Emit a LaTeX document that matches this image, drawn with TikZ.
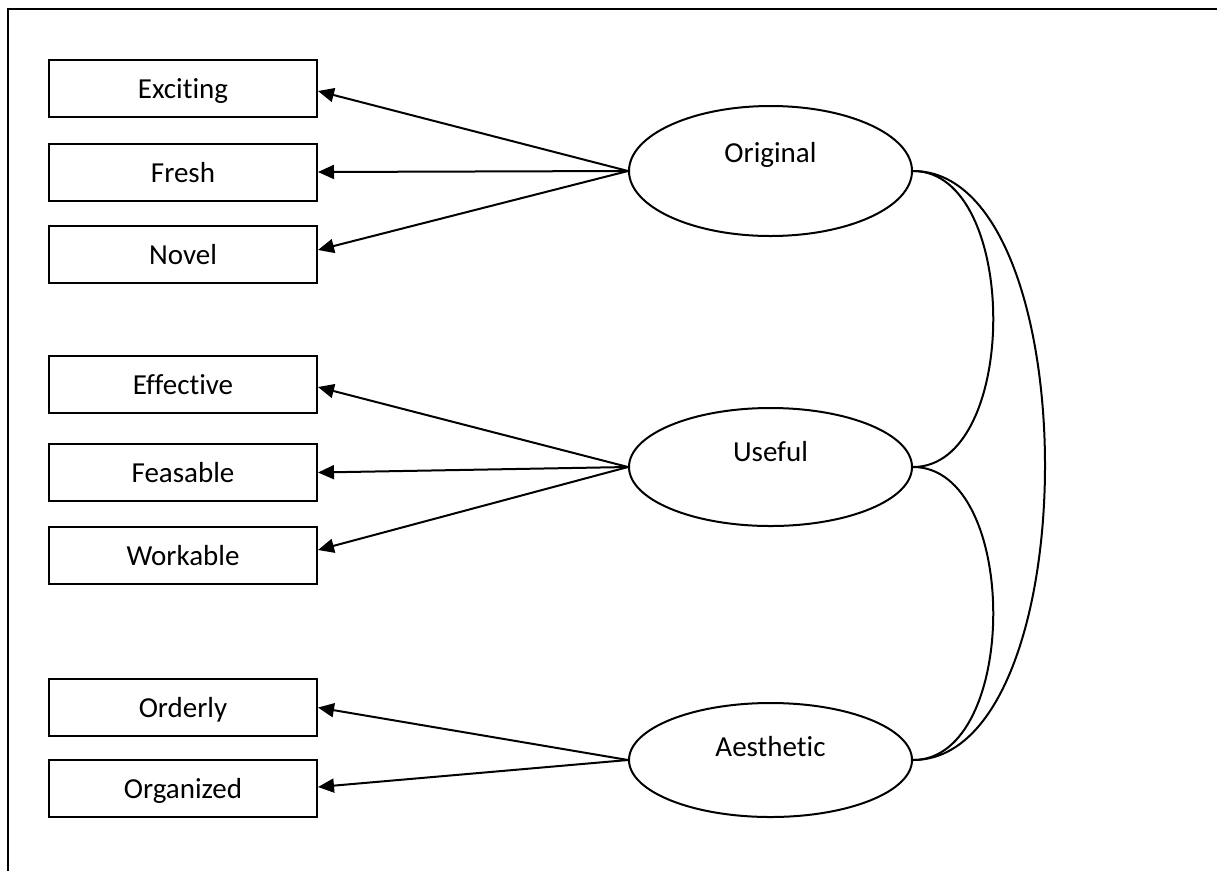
\documentclass[tikz,border=0pt]{standalone}
\usepackage{fontspec}
\setmainfont{Carlito}[Ligatures=NoCommon]
\usetikzlibrary{shapes.geometric,arrows.meta}
\tikzset{
  obs/.style={draw, line width=2pt, rectangle, minimum width=268pt, minimum height=57pt,
    inner sep=0pt, text height=20pt, text depth=0pt, font=\fontsize{29}{34}\selectfont},
  lat/.style={draw, line width=2pt, ellipse, minimum width=283pt, inner sep=0pt,
    text height=0pt, font=\fontsize{29}{34}\selectfont},
  load/.style={line width=2pt, -{Triangle[length=16pt,width=14pt]}},
  cov/.style={line width=2pt},
  frame/.style={line width=2.2pt}
}
\begin{document}
\begin{tikzpicture}[x=1pt,y=-1pt]
\useasboundingbox (0,0) rectangle (1217,871);
\coordinate (ftl) at (8,9);
\coordinate (ftr) at (1217,9);
\coordinate (fbl) at (8,871);
\draw[frame] (ftr) -- (ftl) -- (fbl);

\node[obs] (exc) at (183,88.5) {Exciting};
\node[obs] (fre) at (183,172) {Fresh};
\node[obs] (nov) at (183,254) {Novel};
\node[obs] (eff) at (183,384.5) {Effective};
\node[obs] (fea) at (183,472.5) {Feasable};
\node[obs] (wor) at (183,555) {Workable};
\node[obs] (ord) at (183,707.5) {Orderly};
\node[obs] (org) at (183,788.5) {Organized};

\node[lat, minimum height=130pt, text depth=18pt] (orig) at (770.5,171) {Original};
\node[lat, minimum height=118pt, text depth=12pt] (use) at (770.5,467) {Useful};
\node[lat, minimum height=114pt, text depth=8pt] (aes) at (770.5,760) {Aesthetic};

\draw[load] (orig.west) -- ([yshift=-2.5pt]exc.east);
\draw[load] (orig.west) -- (fre.east);
\draw[load] (orig.west) -- ([yshift=4pt]nov.east);
\draw[load] (use.west) -- ([yshift=-2.5pt]eff.east);
\draw[load] (use.west) -- (fea.east);
\draw[load] (use.west) -- ([yshift=5pt]wor.east);
\draw[load] (aes.west) -- (ord.east);
\draw[load] (aes.west) -- ([yshift=1.5pt]org.east);

\draw[cov] (orig.east) .. controls +(107,0) and +(107,0) .. (use.east);
\draw[cov] (use.east) .. controls +(107,0) and +(107,0) .. (aes.east);
\draw[cov] (orig.east) .. controls +(176,0) and +(176,0) .. (aes.east);
\end{tikzpicture}
\end{document}
